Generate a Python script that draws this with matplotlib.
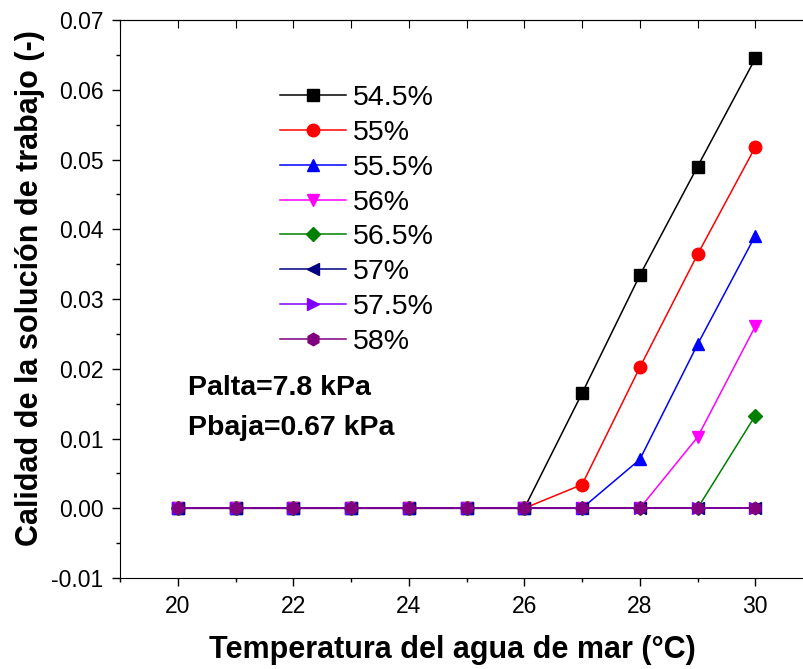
import matplotlib
matplotlib.use("Agg")
import matplotlib.pyplot as plt
from matplotlib.ticker import MultipleLocator, FormatStrFormatter

plt.rcParams['font.family'] = ['Liberation Sans', 'DejaVu Sans']

# temperatura del agua de mar (°C)
temp = [20, 21, 22, 23, 24, 25, 26, 27, 28, 29, 30]

# calidad de la solucion de trabajo para cada concentracion
q_545 = [0, 0, 0, 0, 0, 0, 0, 0.0165, 0.0334, 0.0490, 0.0645]
q_55 = [0, 0, 0, 0, 0, 0, 0, 0.0034, 0.0202, 0.0364, 0.0518]
q_555 = [0, 0, 0, 0, 0, 0, 0, 0, 0.0070, 0.0235, 0.0391]
q_56 = [0, 0, 0, 0, 0, 0, 0, 0, 0, 0.0102, 0.0261]
q_565 = [0, 0, 0, 0, 0, 0, 0, 0, 0, 0, 0.0133]
q_57 = [0, 0, 0, 0, 0, 0, 0, 0, 0, 0, 0]
q_575 = [0, 0, 0, 0, 0, 0, 0, 0, 0, 0, 0]
q_58 = [0, 0, 0, 0, 0, 0, 0, 0, 0, 0, 0]

series = [q_545, q_55, q_555, q_56, q_565, q_57, q_575, q_58]
labels = ['54.5%', '55%', '55.5%', '56%', '56.5%', '57%', '57.5%', '58%']
colores = ['black', 'red', 'blue', 'magenta', 'green', 'navy', '#8000ff', 'purple']
marcadores = ['s', 'o', '^', 'v', 'D', '<', '>', 'h']

fig = plt.figure(figsize=(8.04, 6.69), dpi=100)
ax = fig.add_axes([0.1493, 0.136, 0.862, 0.834])

for y, lab, c, m in zip(series, labels, colores, marcadores):
    ms = 7.5 if m == 'D' else 9
    ax.plot(temp, y, color=c, marker=m, markersize=ms, linewidth=1.1, label=lab)

ax.set_xlim(19, 31)
ax.set_ylim(-0.01, 0.07)
ax.xaxis.set_major_locator(MultipleLocator(2))
ax.xaxis.set_minor_locator(MultipleLocator(1))
ax.yaxis.set_major_locator(MultipleLocator(0.01))
ax.yaxis.set_minor_locator(MultipleLocator(0.005))
ax.yaxis.set_major_formatter(FormatStrFormatter('%.2f'))

ax.tick_params(which='both', direction='out', top=False, right=False, labelsize=16.5)
ax.tick_params(which='major', length=6, width=1, pad=6)
ax.tick_params(which='minor', length=3, width=1)

# ticks hacia dentro en los ejes superior y derecho
ax_top = ax.secondary_xaxis('top')
ax_top.xaxis.set_major_locator(MultipleLocator(1))
ax_top.tick_params(direction='in', length=6, labeltop=False)
ax_right = ax.secondary_yaxis('right')
ax_right.yaxis.set_major_locator(MultipleLocator(0.01))
ax_right.tick_params(direction='in', length=6, labelright=False)

ax.set_xlabel('Temperatura del agua de mar (°C)', fontsize=22, fontweight='bold')
ax.set_ylabel('Calidad de la solución de trabajo (-)', fontsize=22, fontweight='bold')
ax.xaxis.set_label_coords(0.479, -0.103)
ax.yaxis.set_label_coords(-0.108, 0.52)

ax.text(0.234, 0.42, 'Palta=7.8 kPa', transform=fig.transFigure, fontsize=20.5, fontweight='bold', va='center')
ax.text(0.234, 0.36, 'Pbaja=0.67 kPa', transform=fig.transFigure, fontsize=20.5, fontweight='bold', va='center')

ax.legend(loc='upper left', bbox_to_anchor=(0.331, 0.894), bbox_transform=fig.transFigure,
          frameon=False, fontsize=20.5, handlelength=2.3, labelspacing=0.31,
          handletextpad=0.25, borderpad=0)

fig.savefig('out.png', dpi=100)
